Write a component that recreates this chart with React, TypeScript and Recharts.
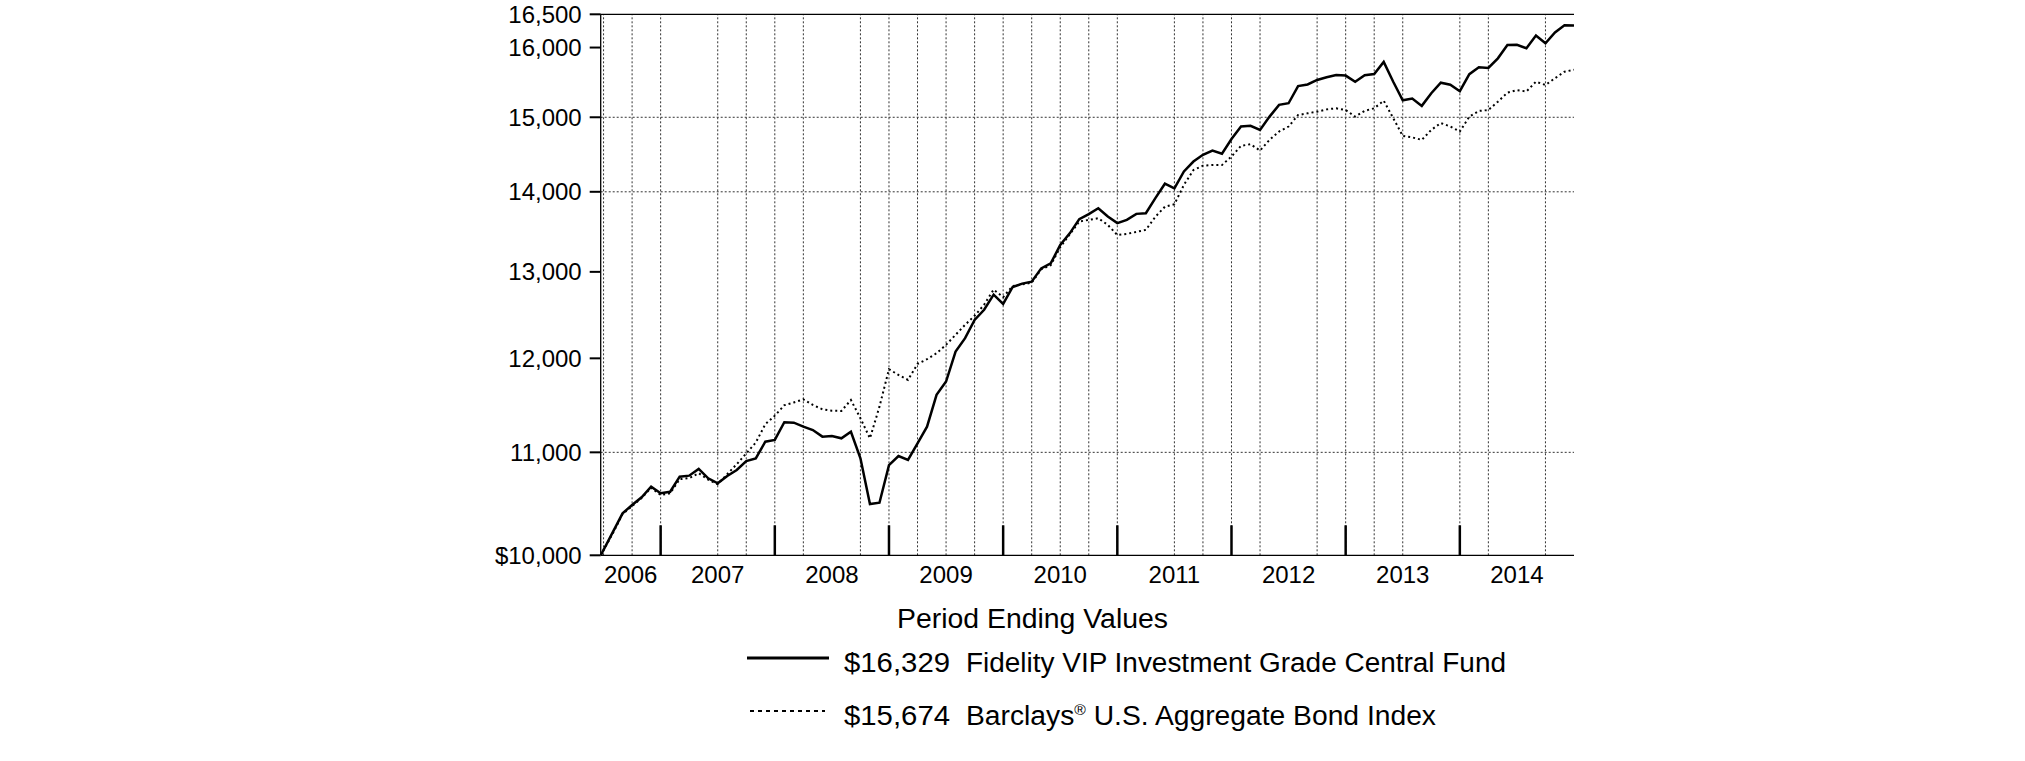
import { LineChart, Line, XAxis, YAxis, ReferenceLine } from 'recharts';

// x = months counted from Jan 1 2006. Fund starts late June 2006, then one value per month-end to Dec 2014.
const inceptionMonth = 5.7;
const lastMonth = 108;

const fundValues = [
  10000,
  10221, 10396, 10477, 10552, 10656, 10591, 10606, 10755, 10765, 10832, 10739, 10689,
  10762, 10822, 10912, 10939, 11109, 11127, 11311, 11306, 11265, 11229, 11161, 11168,
  11144, 11212, 10939, 10486, 10499, 10871, 10962, 10923, 11092, 11264, 11601, 11745,
  12075, 12226, 12435, 12552, 12728, 12620, 12819, 12859, 12882, 13042, 13102, 13327,
  13472, 13650, 13713, 13789, 13683, 13600, 13641, 13717, 13725, 13919, 14105, 14044,
  14266, 14398, 14488, 14545, 14502, 14701, 14872, 14881, 14826, 15009, 15173, 15196,
  15440, 15463, 15527, 15566, 15598, 15590, 15502, 15594, 15612, 15788, 15502, 15237,
  15262, 15159, 15338, 15488, 15459, 15366, 15610, 15711, 15700, 15841, 16037, 16041,
  15990, 16179, 16063, 16226, 16332, 16329,
];

const indexValues = [
  10000,
  10210, 10390, 10465, 10545, 10645, 10575, 10590, 10730, 10740, 10790, 10725, 10680,
  10780, 10880, 10990, 11100, 11290, 11380, 11490, 11520, 11553, 11493, 11447, 11432,
  11430, 11546, 11352, 11144, 11475, 11880, 11817, 11763, 11938, 11990, 12057, 12151,
  12264, 12378, 12482, 12611, 12788, 12700, 12830, 12850, 12870, 13030, 13081, 13300,
  13460, 13620, 13641, 13662, 13577, 13452, 13465, 13490, 13515, 13680, 13808, 13840,
  14090, 14285, 14343, 14351, 14351, 14465, 14609, 14630, 14545, 14689, 14803, 14872,
  15031, 15055, 15078, 15110, 15125, 15101, 15009, 15090, 15125, 15232, 14988, 14744,
  14723, 14689, 14826, 14920, 14872, 14803, 15009, 15088, 15101, 15218, 15346, 15382,
  15363, 15502, 15455, 15552, 15646, 15674,
];

const yearLabels = ['2006', '2007', '2008', '2009', '2010', '2011', '2012', '2013', '2014'];
const yearEnds = [12, 24, 36, 48, 60, 72, 84, 96];
const yTicks = [10000, 11000, 12000, 13000, 14000, 15000, 16000, 16500];
const hGrid = [11000, 14000, 15000];
const vGrid = [6, 9, 12, 18, 21, 24, 27, 33, 36, 39, 42, 45, 48, 51, 54, 57, 60, 66, 69, 72, 75, 81, 84, 87, 90, 96, 99, 105];

const data = fundValues.map((fund, i) => ({
  m: i === 0 ? inceptionMonth : 6 + i,
  fund,
  index: indexValues[i],
}));

// year labels sit in the middle of each year's span
const yearTicks = yearLabels.map((_, k) => (Math.max(12 * k, inceptionMonth) + 12 * (k + 1)) / 2);

const W = 2025;
const H = 761;
const FONT = '"Liberation Sans", Arial, Helvetica, sans-serif';

// short heavy mark rising from the bottom axis at each year end
const YearEndMark = (p: any) => {
  const yb = Math.max(p.y1, p.y2);
  return <line x1={p.x1} x2={p.x1} y1={yb} y2={yb - 30} stroke="#000" strokeWidth={2.5} />;
};

export default function App() {
  return (
    <div style={{ position: 'absolute', left: 0, top: 0, width: W, height: H, fontFamily: FONT }}>
      <LineChart
        width={W}
        height={H}
        data={data}
        margin={{ top: 14.3, right: 451, bottom: 165.7, left: 500.7 }}
        style={{ fontFamily: FONT }}
      >
        {hGrid.map((v) => (
          <ReferenceLine key={'h' + v} y={v} stroke="#333" strokeWidth={1} strokeDasharray="2 2" />
        ))}
        {vGrid.map((m) => (
          <ReferenceLine key={'v' + m} x={m} stroke="#333" strokeWidth={1} strokeDasharray="2 2" />
        ))}
        {yearEnds.map((m) => (
          <ReferenceLine key={'e' + m} x={m} stroke="#000" shape={YearEndMark} />
        ))}
        <ReferenceLine y={16500} stroke="#000" strokeWidth={1.3} />
        <XAxis
          dataKey="m"
          type="number"
          domain={[inceptionMonth, lastMonth]}
          allowDataOverflow
          ticks={yearTicks}
          interval={0}
          tickFormatter={(v) => yearLabels[yearTicks.indexOf(v)]}
          tickLine={false}
          tickSize={6}
          tickMargin={5}
          height={40}
          axisLine={{ stroke: '#000', strokeWidth: 1.3 }}
          tick={{ fill: '#000', fontSize: 24 }}
        />
        <YAxis
          scale="log"
          type="number"
          domain={[10000, 16500]}
          allowDataOverflow
          ticks={yTicks}
          interval={0}
          width={100}
          tickSize={11}
          tickMargin={8}
          tickLine={{ stroke: '#000', strokeWidth: 2 }}
          axisLine={{ stroke: '#000', strokeWidth: 1.3 }}
          tick={{ fill: '#000', fontSize: 24 }}
          tickFormatter={(v) => (v === 10000 ? '$10,000' : v.toLocaleString('en-US'))}
        />
        <Line
          dataKey="index"
          stroke="#000"
          strokeWidth={2}
          strokeDasharray="2 3"
          dot={false}
          isAnimationActive={false}
        />
        <Line dataKey="fund" stroke="#000" strokeWidth={2.5} dot={false} isAnimationActive={false} />
      </LineChart>

      <svg
        width={W}
        height={H}
        style={{ position: 'absolute', left: 0, top: 0, pointerEvents: 'none' }}
        fontFamily={FONT}
        fill="#000"
      >
        <text x={897} y={628} fontSize={27} textLength={271} lengthAdjust="spacingAndGlyphs">
          Period Ending Values
        </text>
        <line x1={747} x2={829} y1={658} y2={658} stroke="#000" strokeWidth={3} />
        <text x={844} y={672} fontSize={28} textLength={106} lengthAdjust="spacingAndGlyphs">
          $16,329
        </text>
        <text x={966} y={671.5} fontSize={27} textLength={540} lengthAdjust="spacingAndGlyphs">
          Fidelity VIP Investment Grade Central Fund
        </text>
        <line x1={750} x2={825} y1={711} y2={711} stroke="#000" strokeWidth={2} strokeDasharray="4 4" />
        <text x={844} y={725} fontSize={28} textLength={106} lengthAdjust="spacingAndGlyphs">
          $15,674
        </text>
        <text x={966} y={724.5} fontSize={27} textLength={470} lengthAdjust="spacingAndGlyphs">
          Barclays
          <tspan fontSize={15} dy={-10}>®</tspan>
          <tspan dy={10}> U.S. Aggregate Bond Index</tspan>
        </text>
      </svg>
    </div>
  );
}
